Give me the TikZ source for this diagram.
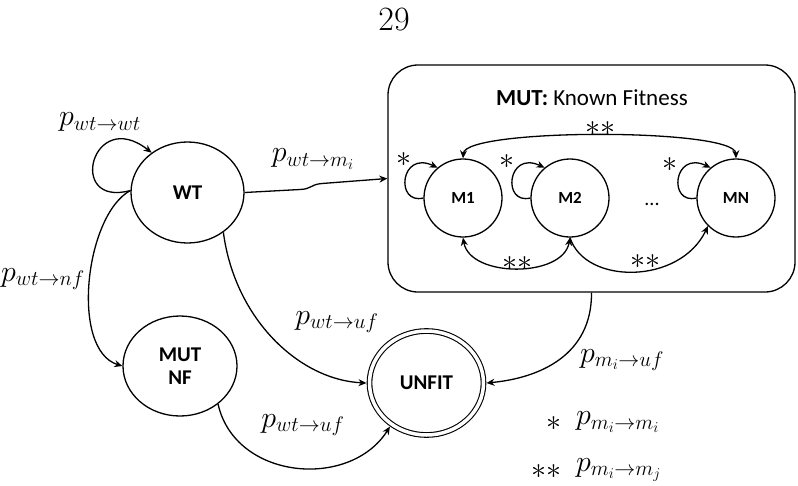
\RequirePackage{fix-cm}
\documentclass[tikz,border=0pt]{standalone}
\usepackage{fontspec}
\newfontfamily\calibri{Carlito}
\usetikzlibrary{shapes.geometric,arrows.meta}
\tikzset{
  state/.style={draw, ellipse, inner sep=0pt, line width=1.3pt,
    font=\calibri\bfseries\fontsize{21}{23}\selectfont, align=center},
  mstate/.style={draw, circle, inner sep=0pt, minimum size=78pt, line width=1.3pt,
    font=\calibri\bfseries\fontsize{17}{19}\selectfont},
  edge/.style={line width=1.3pt, -{Stealth[length=8pt,width=7pt]}},
  bedge/.style={line width=1.3pt, {Stealth[length=8pt,width=7pt]}-{Stealth[length=8pt,width=7pt]}},
  lbl/.style={inner sep=0pt, font=\fontsize{30}{36}\selectfont},
}
\begin{document}
\begin{tikzpicture}[x=1pt,y=-1pt]
\useasboundingbox (0,0) rectangle (798,485);

\node[inner sep=0pt, font=\fontsize{34}{40}\selectfont] (pg) at (394,20) {29};

% box
\node[draw, rounded corners=30pt, line width=1.3pt, minimum width=407pt, minimum height=227pt, inner sep=0pt] (box) at (591.5,178.5) {};
\node[inner sep=0pt, font=\calibri\fontsize{23}{26}\selectfont] (title) at (592,98) {\textbf{MUT:} Known Fitness};

% states
\node[state, minimum width=113pt, minimum height=101pt] (WT) at (187.5,192.5) {WT};
\node[state, minimum width=114pt, minimum height=100pt] (NF) at (180,366) {MUT\\NF};
\node[state, minimum width=114pt, minimum height=104pt, double, double distance=3.5pt, line width=1.1pt, outer sep=3pt] (UF) at (426.5,383) {UNFIT};

\node[mstate] (M1) at (463,198) {M1};
\node[mstate] (M2) at (570,198) {M2};
\node[mstate] (MN) at (736,198) {MN};
\node[inner sep=0pt, font=\calibri\fontsize{20}{22}\selectfont] (dots) at (652,204) {...};

% WT edges
\draw[edge] (WT.178) .. controls (66,208) and (92,106) .. (WT.132);
\draw[edge] (WT.178) .. controls (85,215) and (70,350) .. (NF.west);
\draw[edge] (WT.east) -- (300,189.5) .. controls (312,189) and (310,184.5) .. (322,183.5) -- (box.west);
\draw[edge] (WT.-48) .. controls (235,320) and (300,380) .. (UF.west);
\draw[edge] (NF.-45) .. controls (235,480) and (350,490) .. (UF.-130);
\draw[edge] (box.south) .. controls (592,355) and (540,378) .. (UF.east);

% self loops in box
\draw[edge] (M1.180) .. controls (395,205) and (400,150) .. (M1.130);
\draw[edge] (M2.180) .. controls (502,205) and (507,150) .. (M2.130);
\draw[edge] (MN.180) .. controls (668,205) and (673,150) .. (MN.130);

% transitions between mutants
\draw[bedge] (M1.90) .. controls (465,128) and (735,128) .. (MN.90);
\draw[bedge] (M1.-90) .. controls (470,278) and (563,278) .. (M2.-90);
\draw[edge] (M2.-90) .. controls (585,285) and (680,285) .. (MN.-135);

% labels
\node[lbl] (l1) at (100,122) {$p_{wt\to wt}$};
\node[lbl] (l2) at (313,159) {$p_{wt\to m_i}$};
\node[lbl, anchor=west] (l3) at (1,279) {$p_{wt\to nf}$};
\node[lbl] (l4) at (337,322) {$p_{wt\to uf}$};
\node[lbl] (l5) at (303,425) {$p_{wt\to uf}$};
\node[lbl] (l6) at (622,360) {$p_{m_i\to uf}$};

\node[lbl] (s1) at (404,160) {$\ast$};
\node[lbl] (s2) at (507,162) {$\ast$};
\node[lbl] (s3) at (670,165) {$\ast$};
\node[lbl] (s4) at (600,129) {$\ast\ast$};
\node[lbl] (s5) at (517,264) {$\ast\ast$};
\node[lbl] (s6) at (645,262) {$\ast\ast$};

\node[lbl, anchor=east] (k1) at (562,424) {$\ast$};
\node[lbl, anchor=west] (k2) at (576,422) {$p_{m_i\to m_i}$};
\node[lbl, anchor=east] (k3) at (562,472) {$\ast\ast$};
\node[lbl, anchor=west] (k4) at (576,470) {$p_{m_i\to m_j}$};
\end{tikzpicture}
\end{document}
